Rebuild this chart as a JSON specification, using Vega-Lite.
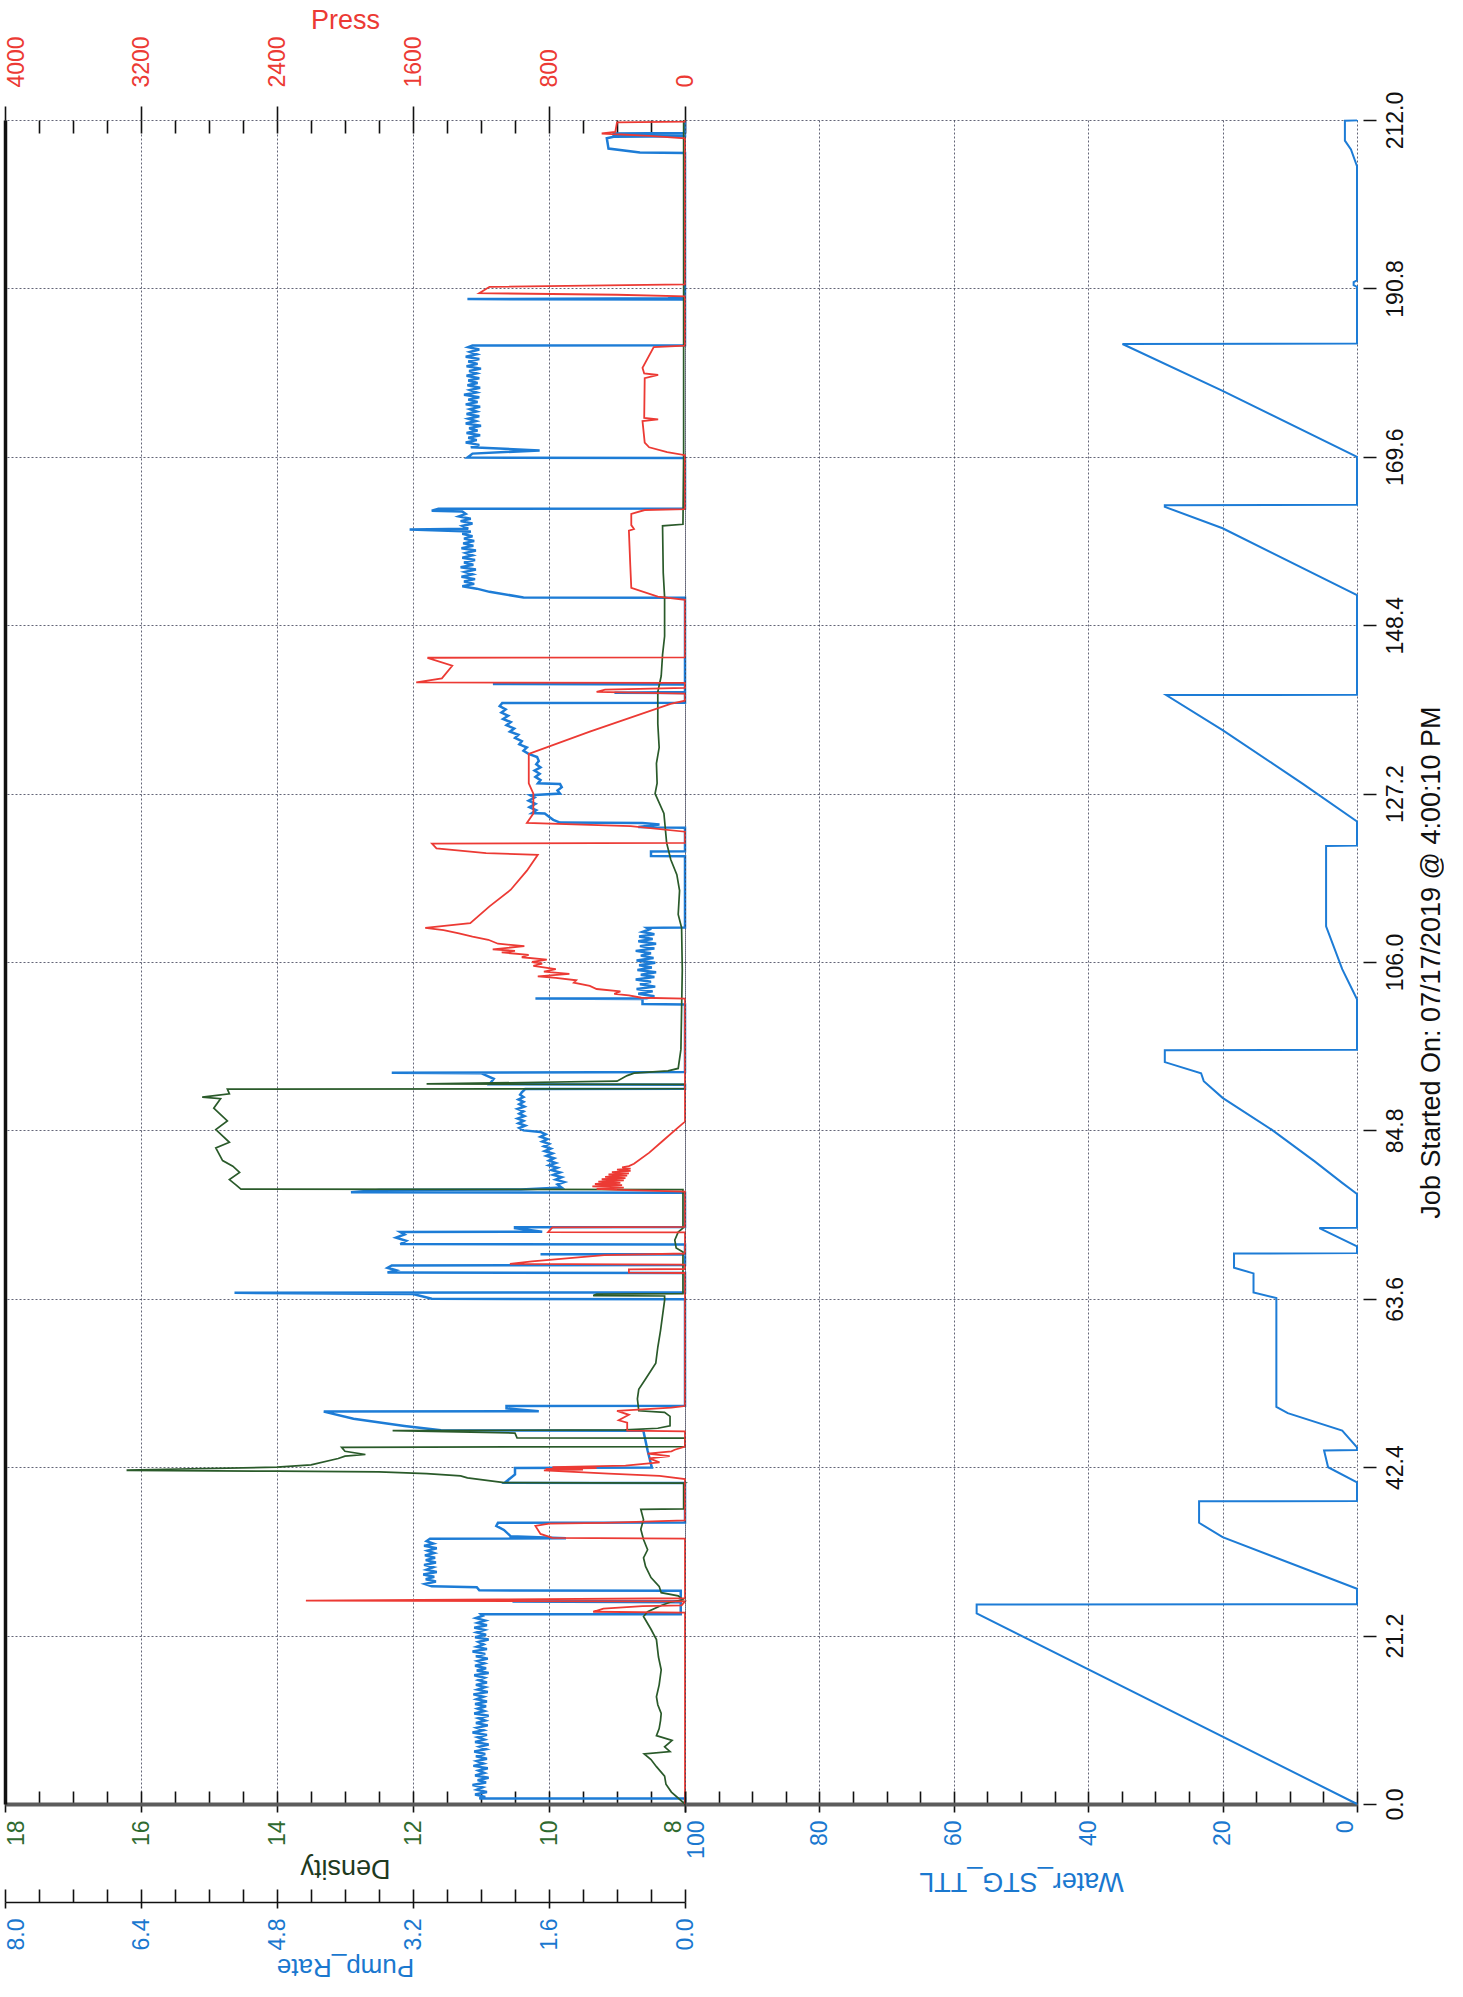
{
"$schema": "https://vega.github.io/schema/vega-lite/v6.json",
"background": "white",
"padding": {"left": 4, "top": 6, "right": 0, "bottom": 12},
"bounds": "flush",
"spacing": 0,
"config": {"view": {"stroke": null}, "font": "Liberation Sans",
  "axis": {"labelFont": "Liberation Sans", "titleFont": "Liberation Sans", "labelFlush": false, "labelOverlap": false, "gridColor": "#3c3f55", "gridDash": [2,2], "gridWidth": 1, "gridOpacity": 0.8, "tickColor": "#111111", "titleFontWeight": "normal"}},
"datasets": {
"pump": [
{"t":0,"v":0},{"t":0.7,"v":0},{"t":0.7,"v":2.42},{"t":0.9,"v":2.35},{"t":1.2,"v":2.47},{"t":1.5,"v":2.33},{"t":1.8,"v":2.45},{"t":2.1,"v":2.38},{"t":2.4,"v":2.5},{"t":2.7,"v":2.34},{"t":3.0,"v":2.44},{"t":3.3,"v":2.31},{"t":3.6,"v":2.47},{"t":3.9,"v":2.36},{"t":4.2,"v":2.43},{"t":4.5,"v":2.32},{"t":4.8,"v":2.49},{"t":5.1,"v":2.37},{"t":5.4,"v":2.45},{"t":5.7,"v":2.33},{"t":6.0,"v":2.46},{"t":6.3,"v":2.35},{"t":6.6,"v":2.48},{"t":6.9,"v":2.34},{"t":7.2,"v":2.42},{"t":7.5,"v":2.31},{"t":7.8,"v":2.47},{"t":8.1,"v":2.36},{"t":8.4,"v":2.44},{"t":8.7,"v":2.33},{"t":9.0,"v":2.5},{"t":9.3,"v":2.37},{"t":9.6,"v":2.45},{"t":9.9,"v":2.32},{"t":10.2,"v":2.46},{"t":10.5,"v":2.35},{"t":10.8,"v":2.43},{"t":11.1,"v":2.31},{"t":11.4,"v":2.48},{"t":11.7,"v":2.36},{"t":12.0,"v":2.44},{"t":12.3,"v":2.34},{"t":12.6,"v":2.47},{"t":12.9,"v":2.33},{"t":13.2,"v":2.45},{"t":13.5,"v":2.37},{"t":13.8,"v":2.49},{"t":14.1,"v":2.32},{"t":14.4,"v":2.44},{"t":14.7,"v":2.35},{"t":15.0,"v":2.46},{"t":15.3,"v":2.33},{"t":15.6,"v":2.43},{"t":15.9,"v":2.36},{"t":16.2,"v":2.48},{"t":16.5,"v":2.31},{"t":16.8,"v":2.45},{"t":17.1,"v":2.34},{"t":17.4,"v":2.47},{"t":17.7,"v":2.36},{"t":18.0,"v":2.44},{"t":18.3,"v":2.32},{"t":18.6,"v":2.46},{"t":18.9,"v":2.35},{"t":19.2,"v":2.5},{"t":19.5,"v":2.33},{"t":19.8,"v":2.45},{"t":20.1,"v":2.37},{"t":20.4,"v":2.43},{"t":20.7,"v":2.31},{"t":21.0,"v":2.47},{"t":21.3,"v":2.34},{"t":21.6,"v":2.45},{"t":21.9,"v":2.36},{"t":22.2,"v":2.48},{"t":22.5,"v":2.33},{"t":22.8,"v":2.44},{"t":23.1,"v":2.35},{"t":23.4,"v":2.46},{"t":23.7,"v":2.38},{"t":23.9,"v":2.4},{"t":23.9,"v":0.05},{"t":25.4,"v":0.05},{"t":25.5,"v":2.03},{"t":25.55,"v":0.05},{"t":26.85,"v":0.05},{"t":26.9,"v":2.42},{"t":27.3,"v":2.45},{"t":27.4,"v":2.98},{"t":27.7,"v":3.06},{"t":28.0,"v":2.93},{"t":28.3,"v":3.05},{"t":28.6,"v":2.95},{"t":28.9,"v":3.08},{"t":29.2,"v":2.92},{"t":29.5,"v":3.04},{"t":29.8,"v":2.96},{"t":30.1,"v":3.07},{"t":30.4,"v":2.93},{"t":30.7,"v":3.05},{"t":31.0,"v":2.94},{"t":31.3,"v":3.06},{"t":31.6,"v":2.95},{"t":31.9,"v":3.03},{"t":32.2,"v":2.92},{"t":32.5,"v":3.07},{"t":32.8,"v":2.96},{"t":33.1,"v":3.04},{"t":33.4,"v":3.0},{"t":33.45,"v":1.4},{"t":33.7,"v":2.05},{"t":34.5,"v":2.13},{"t":35.0,"v":2.22},{"t":35.4,"v":2.2},{"t":35.45,"v":0},{"t":40.4,"v":0},{"t":40.45,"v":2.12},{"t":41.5,"v":2.0},{"t":42.3,"v":2.0},{"t":42.35,"v":0.39},{"t":44.5,"v":0.44},{"t":47.0,"v":0.49},{"t":47.05,"v":2.87},{"t":47.6,"v":3.3},{"t":48.5,"v":3.9},{"t":49.4,"v":4.25},{"t":49.45,"v":1.72},{"t":49.8,"v":2.1},{"t":50.1,"v":2.1},{"t":50.15,"v":0},{"t":63.55,"v":0},{"t":63.6,"v":2.98},{"t":64.2,"v":3.2},{"t":64.35,"v":5.3},{"t":64.4,"v":0},{"t":66.85,"v":0},{"t":66.9,"v":3.5},{"t":67.2,"v":3.4},{"t":67.5,"v":3.5},{"t":67.8,"v":3.45},{"t":67.85,"v":0},{"t":69.15,"v":0},{"t":69.2,"v":1.7},{"t":69.25,"v":0},{"t":70.45,"v":0},{"t":70.5,"v":3.35},{"t":70.9,"v":3.28},{"t":71.3,"v":3.4},{"t":71.7,"v":3.3},{"t":72.0,"v":3.35},{"t":72.05,"v":1.68},{"t":72.5,"v":2.0},{"t":72.6,"v":2.0},{"t":72.65,"v":0},{"t":76.95,"v":0},{"t":77.0,"v":3.93},{"t":77.3,"v":3.6},{"t":77.35,"v":1.93},{"t":77.6,"v":1.45},{"t":78.0,"v":1.5},{"t":78.3,"v":1.42},{"t":78.6,"v":1.52},{"t":78.9,"v":1.45},{"t":79.2,"v":1.55},{"t":79.5,"v":1.47},{"t":79.8,"v":1.57},{"t":80.1,"v":1.5},{"t":80.4,"v":1.6},{"t":80.7,"v":1.52},{"t":81.0,"v":1.6},{"t":81.3,"v":1.54},{"t":81.6,"v":1.63},{"t":81.9,"v":1.56},{"t":82.2,"v":1.65},{"t":82.5,"v":1.58},{"t":82.8,"v":1.66},{"t":83.1,"v":1.6},{"t":83.4,"v":1.68},{"t":83.7,"v":1.62},{"t":84.0,"v":1.7},{"t":84.3,"v":1.64},{"t":84.6,"v":1.7},{"t":84.8,"v":1.9},{"t":85.1,"v":1.95},{"t":85.4,"v":1.88},{"t":85.7,"v":1.96},{"t":86.0,"v":1.9},{"t":86.3,"v":1.97},{"t":86.6,"v":1.89},{"t":86.9,"v":1.95},{"t":87.2,"v":1.9},{"t":87.5,"v":1.97},{"t":87.8,"v":1.89},{"t":88.1,"v":1.95},{"t":88.4,"v":1.9},{"t":88.7,"v":1.96},{"t":89.0,"v":1.9},{"t":89.3,"v":1.94},{"t":89.6,"v":1.92},{"t":90.0,"v":1.88},{"t":90.05,"v":0},{"t":90.55,"v":0},{"t":90.6,"v":2.3},{"t":91.3,"v":2.25},{"t":92.0,"v":2.4},{"t":92.05,"v":3.45},{"t":92.15,"v":0},{"t":100.65,"v":0},{"t":100.7,"v":0.5},{"t":101.35,"v":0.5},{"t":101.4,"v":1.76},{"t":101.45,"v":0.45},{"t":101.7,"v":0.36},{"t":102.0,"v":0.55},{"t":102.3,"v":0.38},{"t":102.6,"v":0.57},{"t":102.9,"v":0.35},{"t":103.2,"v":0.53},{"t":103.5,"v":0.4},{"t":103.8,"v":0.58},{"t":104.1,"v":0.36},{"t":104.4,"v":0.52},{"t":104.7,"v":0.34},{"t":105.0,"v":0.56},{"t":105.3,"v":0.39},{"t":105.6,"v":0.54},{"t":105.9,"v":0.35},{"t":106.2,"v":0.57},{"t":106.5,"v":0.37},{"t":106.8,"v":0.52},{"t":107.1,"v":0.4},{"t":107.4,"v":0.58},{"t":107.7,"v":0.36},{"t":108.0,"v":0.53},{"t":108.3,"v":0.34},{"t":108.6,"v":0.55},{"t":108.9,"v":0.38},{"t":109.2,"v":0.54},{"t":109.5,"v":0.36},{"t":109.8,"v":0.5},{"t":110.1,"v":0.42},{"t":110.3,"v":0.45},{"t":110.35,"v":0},{"t":119.3,"v":0},{"t":119.35,"v":0.4},{"t":119.9,"v":0.4},{"t":119.95,"v":0},{"t":122.9,"v":0},{"t":123.0,"v":0.55},{"t":123.3,"v":0.3},{"t":123.5,"v":0.5},{"t":123.55,"v":1.47},{"t":123.9,"v":1.55},{"t":124.3,"v":1.6},{"t":124.7,"v":1.65},{"t":124.75,"v":1.8},{"t":125.1,"v":1.75},{"t":125.5,"v":1.83},{"t":125.9,"v":1.76},{"t":126.3,"v":1.84},{"t":126.7,"v":1.77},{"t":127.0,"v":1.82},{"t":127.2,"v":1.47},{"t":127.6,"v":1.5},{"t":128.0,"v":1.45},{"t":128.4,"v":1.47},{"t":128.5,"v":1.73},{"t":128.9,"v":1.7},{"t":129.3,"v":1.76},{"t":129.7,"v":1.71},{"t":130.1,"v":1.77},{"t":130.5,"v":1.7},{"t":130.9,"v":1.75},{"t":131.3,"v":1.72},{"t":131.8,"v":1.74},{"t":132.2,"v":1.84},{"t":132.6,"v":1.9},{"t":133.0,"v":1.86},{"t":133.4,"v":1.95},{"t":133.8,"v":1.92},{"t":134.2,"v":2.0},{"t":134.6,"v":1.96},{"t":135.0,"v":2.06},{"t":135.4,"v":2.01},{"t":135.8,"v":2.1},{"t":136.2,"v":2.05},{"t":136.6,"v":2.14},{"t":137.0,"v":2.08},{"t":137.4,"v":2.16},{"t":137.8,"v":2.11},{"t":138.2,"v":2.18},{"t":138.6,"v":2.15},{"t":138.65,"v":0},{"t":139.85,"v":0},{"t":139.9,"v":0.83},{"t":140.0,"v":0},{"t":140.95,"v":0},{"t":141.0,"v":2.26},{"t":141.1,"v":0},{"t":151.85,"v":0},{"t":151.9,"v":1.9},{"t":152.6,"v":2.3},{"t":153.0,"v":2.45},{"t":153.3,"v":2.62},{"t":153.6,"v":2.48},{"t":153.9,"v":2.6},{"t":154.2,"v":2.47},{"t":154.5,"v":2.63},{"t":154.8,"v":2.5},{"t":155.1,"v":2.59},{"t":155.4,"v":2.46},{"t":155.7,"v":2.64},{"t":156.0,"v":2.49},{"t":156.3,"v":2.6},{"t":156.6,"v":2.47},{"t":156.9,"v":2.62},{"t":157.2,"v":2.5},{"t":157.5,"v":2.58},{"t":157.8,"v":2.46},{"t":158.1,"v":2.63},{"t":158.4,"v":2.49},{"t":158.7,"v":2.61},{"t":159.0,"v":2.48},{"t":159.3,"v":2.6},{"t":159.6,"v":2.5},{"t":159.9,"v":2.62},{"t":160.2,"v":2.52},{"t":160.45,"v":3.24},{"t":160.55,"v":2.55},{"t":160.9,"v":2.62},{"t":161.2,"v":2.5},{"t":161.5,"v":2.64},{"t":161.8,"v":2.52},{"t":162.1,"v":2.66},{"t":162.4,"v":2.58},{"t":162.7,"v":2.62},{"t":162.8,"v":2.98},{"t":163.05,"v":2.9},{"t":163.1,"v":0},{"t":169.45,"v":0},{"t":169.5,"v":2.56},{"t":170.0,"v":2.5},{"t":170.4,"v":1.71},{"t":170.8,"v":2.52},{"t":171.1,"v":2.42},{"t":171.4,"v":2.58},{"t":171.7,"v":2.45},{"t":172.0,"v":2.55},{"t":172.3,"v":2.41},{"t":172.6,"v":2.57},{"t":172.9,"v":2.44},{"t":173.2,"v":2.54},{"t":173.5,"v":2.4},{"t":173.8,"v":2.58},{"t":174.1,"v":2.46},{"t":174.4,"v":2.55},{"t":174.7,"v":2.42},{"t":175.0,"v":2.57},{"t":175.3,"v":2.45},{"t":175.6,"v":2.53},{"t":175.9,"v":2.41},{"t":176.2,"v":2.58},{"t":176.5,"v":2.44},{"t":176.8,"v":2.55},{"t":177.1,"v":2.42},{"t":177.4,"v":2.6},{"t":177.7,"v":2.45},{"t":178.0,"v":2.53},{"t":178.3,"v":2.41},{"t":178.6,"v":2.56},{"t":178.9,"v":2.44},{"t":179.2,"v":2.55},{"t":179.5,"v":2.42},{"t":179.8,"v":2.57},{"t":180.1,"v":2.45},{"t":180.4,"v":2.54},{"t":180.7,"v":2.4},{"t":181.0,"v":2.57},{"t":181.3,"v":2.44},{"t":181.6,"v":2.55},{"t":181.9,"v":2.42},{"t":182.2,"v":2.58},{"t":182.5,"v":2.45},{"t":182.8,"v":2.53},{"t":183.1,"v":2.42},{"t":183.4,"v":2.55},{"t":183.6,"v":2.5},{"t":183.65,"v":0},{"t":189.4,"v":0},{"t":189.45,"v":2.56},{"t":189.55,"v":0.2},{"t":189.7,"v":0},{"t":207.85,"v":0},{"t":207.9,"v":0.53},{"t":208.4,"v":0.9},{"t":209.7,"v":0.92},{"t":209.9,"v":0.84},{"t":209.95,"v":0},{"t":210.1,"v":0},{"t":210.15,"v":0.84},{"t":210.3,"v":0.84},{"t":210.35,"v":0},{"t":212,"v":0}
],
"density": [
{"t":0,"v":8.0},{"t":1.5,"v":8.2},{"t":2.5,"v":8.28},{"t":3.5,"v":8.3},{"t":4.7,"v":8.42},{"t":5.6,"v":8.5},{"t":6.3,"v":8.6},{"t":6.6,"v":8.22},{"t":7.2,"v":8.3},{"t":8.0,"v":8.19},{"t":8.6,"v":8.42},{"t":9.5,"v":8.38},{"t":10.5,"v":8.36},{"t":11.4,"v":8.35},{"t":12.5,"v":8.4},{"t":13.5,"v":8.42},{"t":15.0,"v":8.38},{"t":16.9,"v":8.35},{"t":18.5,"v":8.39},{"t":20.7,"v":8.42},{"t":22.0,"v":8.5},{"t":23.6,"v":8.61},{"t":24.2,"v":8.55},{"t":25.0,"v":8.35},{"t":25.4,"v":8.22},{"t":25.7,"v":8.03},{"t":26.2,"v":8.1},{"t":26.6,"v":8.35},{"t":27.4,"v":8.38},{"t":28.5,"v":8.5},{"t":29.9,"v":8.58},{"t":31.0,"v":8.61},{"t":32.0,"v":8.55},{"t":33.3,"v":8.61},{"t":34.6,"v":8.65},{"t":35.8,"v":8.61},{"t":37.1,"v":8.65},{"t":37.15,"v":8.02},{"t":40.3,"v":8.02},{"t":40.4,"v":8.0},{"t":40.45,"v":10.66},{"t":41.05,"v":11.2},{"t":41.3,"v":11.3},{"t":41.6,"v":11.8},{"t":41.8,"v":12.5},{"t":41.9,"v":14.0},{"t":42.0,"v":16.2},{"t":42.05,"v":16.2},{"t":42.4,"v":14.0},{"t":42.7,"v":13.5},{"t":43.5,"v":13.1},{"t":43.8,"v":13.0},{"t":44.0,"v":12.7},{"t":44.4,"v":13.0},{"t":44.9,"v":13.05},{"t":45.0,"v":8.0},{"t":46.05,"v":8.0},{"t":46.1,"v":10.47},{"t":46.7,"v":10.5},{"t":47.0,"v":12.3},{"t":47.1,"v":8.88},{"t":47.3,"v":8.4},{"t":47.6,"v":8.22},{"t":48.8,"v":8.22},{"t":49.3,"v":8.3},{"t":49.5,"v":8.68},{"t":51.0,"v":8.7},{"t":52.2,"v":8.68},{"t":53.5,"v":8.58},{"t":55.5,"v":8.43},{"t":57.5,"v":8.4},{"t":59.6,"v":8.36},{"t":61.5,"v":8.33},{"t":63.4,"v":8.3},{"t":63.95,"v":8.3},{"t":64.0,"v":9.35},{"t":64.2,"v":9.3},{"t":64.25,"v":8.03},{"t":69.5,"v":8.03},{"t":70.0,"v":8.13},{"t":71.0,"v":8.15},{"t":72.0,"v":8.1},{"t":72.5,"v":8.03},{"t":77.35,"v":8.03},{"t":77.4,"v":14.53},{"t":77.9,"v":14.6},{"t":78.6,"v":14.7},{"t":79.5,"v":14.55},{"t":80.3,"v":14.65},{"t":81.0,"v":14.8},{"t":82.6,"v":14.9},{"t":83.3,"v":14.7},{"t":84.9,"v":14.9},{"t":86.0,"v":14.73},{"t":87.6,"v":14.93},{"t":88.8,"v":14.83},{"t":89.0,"v":15.1},{"t":89.4,"v":14.7},{"t":90.0,"v":14.73},{"t":90.05,"v":8.0},{"t":90.6,"v":8.0},{"t":90.65,"v":11.8},{"t":91.0,"v":9.0},{"t":91.7,"v":8.85},{"t":92.0,"v":8.75},{"t":92.3,"v":8.25},{"t":92.6,"v":8.1},{"t":95,"v":8.06},{"t":100,"v":8.05},{"t":105,"v":8.04},{"t":110.3,"v":8.05},{"t":112,"v":8.1},{"t":115,"v":8.08},{"t":117,"v":8.12},{"t":118.9,"v":8.21},{"t":121,"v":8.27},{"t":124.7,"v":8.31},{"t":127.2,"v":8.44},{"t":128.5,"v":8.41},{"t":131,"v":8.42},{"t":133,"v":8.38},{"t":136,"v":8.4},{"t":140,"v":8.4},{"t":142,"v":8.35},{"t":144.7,"v":8.33},{"t":147,"v":8.3},{"t":150,"v":8.3},{"t":151.9,"v":8.3},{"t":155,"v":8.32},{"t":160.9,"v":8.33},{"t":161.1,"v":8.03},{"t":170,"v":8.02},{"t":190,"v":8.02},{"t":212,"v":8.02}
],
"press": [
{"t":0,"v":0},{"t":24.1,"v":0},{"t":24.2,"v":540},{"t":24.6,"v":480},{"t":24.9,"v":250},{"t":25.0,"v":20},{"t":25.5,"v":0},{"t":25.6,"v":2230},{"t":25.75,"v":1100},{"t":25.9,"v":0},{"t":33.4,"v":0},{"t":33.5,"v":780},{"t":34.0,"v":850},{"t":35.0,"v":880},{"t":35.3,"v":800},{"t":35.4,"v":480},{"t":35.7,"v":0},{"t":40.9,"v":0},{"t":41.3,"v":150},{"t":41.6,"v":450},{"t":42.0,"v":830},{"t":42.1,"v":600},{"t":42.2,"v":820},{"t":42.3,"v":520},{"t":42.4,"v":780},{"t":42.6,"v":350},{"t":43.0,"v":150},{"t":43.5,"v":210},{"t":43.8,"v":90},{"t":44.1,"v":220},{"t":44.4,"v":80},{"t":44.6,"v":60},{"t":45.0,"v":0},{"t":46.9,"v":0},{"t":47.0,"v":340},{"t":48.0,"v":340},{"t":48.3,"v":390},{"t":49.0,"v":330},{"t":49.5,"v":400},{"t":49.9,"v":80},{"t":50.1,"v":0},{"t":66.85,"v":0},{"t":66.9,"v":330},{"t":67.3,"v":330},{"t":67.35,"v":0},{"t":67.9,"v":0},{"t":68.0,"v":1030},{"t":68.3,"v":900},{"t":69.1,"v":475},{"t":69.3,"v":0},{"t":71.95,"v":0},{"t":72.0,"v":805},{"t":72.6,"v":780},{"t":72.65,"v":0},{"t":77.1,"v":0},{"t":77.3,"v":400},{"t":77.45,"v":520},{"t":77.6,"v":360},{"t":77.75,"v":545},{"t":77.9,"v":370},{"t":78.05,"v":530},{"t":78.2,"v":380},{"t":78.35,"v":510},{"t":78.5,"v":360},{"t":78.65,"v":490},{"t":78.8,"v":350},{"t":78.95,"v":470},{"t":79.1,"v":340},{"t":79.25,"v":450},{"t":79.4,"v":330},{"t":79.55,"v":430},{"t":79.7,"v":320},{"t":79.85,"v":400},{"t":80.0,"v":320},{"t":80.15,"v":370},{"t":80.3,"v":330},{"t":80.6,"v":300},{"t":82.0,"v":210},{"t":83.5,"v":130},{"t":85.0,"v":50},{"t":85.9,"v":0},{"t":101.4,"v":0},{"t":101.5,"v":257},{"t":101.8,"v":330},{"t":102.0,"v":416},{"t":102.3,"v":380},{"t":102.6,"v":520},{"t":103.0,"v":560},{"t":103.4,"v":654},{"t":103.7,"v":640},{"t":104.0,"v":760},{"t":104.2,"v":866},{"t":104.5,"v":680},{"t":104.8,"v":830},{"t":105.1,"v":760},{"t":105.5,"v":892},{"t":105.8,"v":840},{"t":106.0,"v":900},{"t":106.3,"v":813},{"t":106.6,"v":960},{"t":106.9,"v":920},{"t":107.2,"v":1078},{"t":107.4,"v":1000},{"t":107.6,"v":1131},{"t":108.0,"v":945},{"t":108.3,"v":1100},{"t":108.8,"v":1157},{"t":109.2,"v":1250},{"t":109.6,"v":1330},{"t":110.0,"v":1420},{"t":110.3,"v":1528},{"t":110.9,"v":1263},{"t":113.0,"v":1150},{"t":115.1,"v":1025},{"t":117.5,"v":930},{"t":119.5,"v":866},{"t":119.7,"v":1170},{"t":120.3,"v":1462},{"t":120.9,"v":1488},{"t":121.0,"v":0},{"t":122.4,"v":0},{"t":123.1,"v":320},{"t":123.5,"v":930},{"t":124.7,"v":892},{"t":127.2,"v":892},{"t":128.5,"v":919},{"t":132.2,"v":919},{"t":135.0,"v":560},{"t":138.5,"v":85},{"t":138.9,"v":0},{"t":139.8,"v":0},{"t":140.0,"v":520},{"t":140.3,"v":470},{"t":140.5,"v":0},{"t":141.15,"v":0},{"t":141.2,"v":1581},{"t":141.7,"v":1430},{"t":143.3,"v":1369},{"t":144.3,"v":1515},{"t":144.35,"v":0},{"t":151.6,"v":0},{"t":152.0,"v":160},{"t":153.1,"v":316},{"t":156,"v":322},{"t":160.3,"v":330},{"t":160.5,"v":300},{"t":161,"v":316},{"t":162.4,"v":316},{"t":162.9,"v":237},{"t":163.0,"v":0},{"t":169.8,"v":0},{"t":170.2,"v":105},{"t":170.8,"v":211},{"t":171.4,"v":237},{"t":174.1,"v":250},{"t":174.3,"v":158},{"t":174.5,"v":240},{"t":179.5,"v":237},{"t":179.9,"v":158},{"t":180.1,"v":240},{"t":180.8,"v":250},{"t":183.4,"v":184},{"t":183.6,"v":0},{"t":189.8,"v":0},{"t":190.0,"v":400},{"t":190.2,"v":1210},{"t":191.0,"v":1150},{"t":191.3,"v":0},{"t":209.7,"v":0},{"t":210.0,"v":210},{"t":210.3,"v":490},{"t":210.5,"v":410},{"t":211.7,"v":400},{"t":211.8,"v":0},{"t":212,"v":0}
],
"water": [
{"t":0,"v":0},{"t":24.0,"v":56.6},{"t":25.1,"v":56.6},{"t":25.15,"v":0},{"t":27.1,"v":0},{"t":33.6,"v":20},{"t":35.4,"v":23.5},{"t":38.1,"v":23.5},{"t":38.15,"v":0},{"t":40.5,"v":0},{"t":42.4,"v":4.3},{"t":44.5,"v":4.9},{"t":44.55,"v":0},{"t":44.9,"v":0},{"t":47.0,"v":2.2},{"t":49.2,"v":10.3},{"t":50.0,"v":12.0},{"t":63.7,"v":12.0},{"t":64.4,"v":15.4},{"t":66.8,"v":15.4},{"t":67.5,"v":18.3},{"t":69.3,"v":18.3},{"t":69.35,"v":0},{"t":70.2,"v":0},{"t":72.5,"v":5.6},{"t":72.55,"v":0},{"t":76.8,"v":0},{"t":78.2,"v":2.2},{"t":80.9,"v":6.3},{"t":84.9,"v":12.7},{"t":88.9,"v":20},{"t":91.0,"v":22.8},{"t":92.0,"v":23.2},{"t":93.4,"v":28.6},{"t":94.9,"v":28.6},{"t":94.95,"v":0},{"t":101.3,"v":0},{"t":105.1,"v":2.2},{"t":110.5,"v":4.6},{"t":120.6,"v":4.6},{"t":120.65,"v":0},{"t":123.7,"v":0},{"t":128.4,"v":8.0},{"t":135.2,"v":20},{"t":139.6,"v":28.4},{"t":139.65,"v":0},{"t":152.2,"v":0},{"t":160.6,"v":20},{"t":163.3,"v":28.6},{"t":163.5,"v":28.6},{"t":163.55,"v":0},{"t":169.6,"v":0},{"t":177.9,"v":20},{"t":183.8,"v":34.9},{"t":183.85,"v":0},{"t":191.0,"v":0},{"t":191.2,"v":0.5},{"t":191.6,"v":0.5},{"t":191.8,"v":0},{"t":206.2,"v":0},{"t":208.3,"v":0.9},{"t":209.4,"v":1.8},{"t":211.9,"v":1.8},{"t":211.95,"v":0},{"t":212,"v":0}
]
},
"hconcat": [
{
"width": 680, "height": 1684,
"layer": [
{"data": {"name": "press"}, "mark": {"type": "point", "opacity": 0},
 "encoding": {
  "x": {"field": "v", "type": "quantitative", "scale": {"domain": [0,4000], "reverse": true, "nice": false, "zero": false},
   "axis": {"orient": "top", "values": [0,200,400,600,800,1000,1200,1400,1600,1800,2000,2200,2400,2600,2800,3000,3200,3400,3600,3800,4000], "labels": false, "grid": false, "domain": false, "tickSize": -13, "tickWidth": 1.6, "title": null}},
  "y": {"field": "t", "type": "quantitative", "scale": {"domain": [0,212], "nice": false, "zero": false},
   "axis": {"orient": "left", "values": [0,21.2,42.4,63.6,84.8,106,127.2,148.4,169.6,190.8,212], "grid": true, "labels": false, "ticks": false, "domain": true, "domainColor": "#111111", "domainWidth": 3.5, "title": null}}}},
{"data": {"name": "density"}, "mark": {"type": "point", "opacity": 0},
 "encoding": {
  "x": {"field": "v", "type": "quantitative", "scale": {"domain": [8,18], "reverse": true, "nice": false, "zero": false},
   "axis": {"orient": "bottom", "values": [8,8.5,9,9.5,10,10.5,11,11.5,12,12.5,13,13.5,14,14.5,15,15.5,16,16.5,17,17.5,18], "labels": false, "grid": false, "domain": false, "tickSize": -13, "tickWidth": 1.6, "title": null}},
  "y": {"field": "t", "type": "quantitative", "scale": {"domain": [0,212], "nice": false, "zero": false},
   "axis": {"orient": "left", "values": [0,21.2,42.4,63.6,84.8,106,127.2,148.4,169.6,190.8,212], "grid": true, "labels": false, "ticks": false, "domain": true, "domainColor": "#111111", "domainWidth": 3.5, "title": null}}}},
{"data": {"name": "pump"}, "mark": {"type": "point", "opacity": 0},
 "encoding": {
  "x": {"field": "v", "type": "quantitative", "scale": {"domain": [0,8], "reverse": true, "nice": false, "zero": false},
   "axis": {"orient": "bottom", "offset": 98, "values": [0,0.4,0.8,1.2,1.6,2,2.4,2.8,3.2,3.6,4,4.4,4.8,5.2,5.6,6,6.4,6.8,7.2,7.6,8], "labels": false, "grid": false, "domain": false, "tickSize": -13, "tickWidth": 1.6, "title": null}},
  "y": {"field": "t", "type": "quantitative", "scale": {"domain": [0,212], "nice": false, "zero": false},
   "axis": {"orient": "left", "values": [0,21.2,42.4,63.6,84.8,106,127.2,148.4,169.6,190.8,212], "grid": true, "labels": false, "ticks": false, "domain": true, "domainColor": "#111111", "domainWidth": 3.5, "title": null}}}},
{"data": {"name": "pump"}, "mark": {"type": "line", "color": "#1d7cd6", "strokeWidth": 2.5},
 "encoding": {
  "order": {"value": null},
  "x": {"field": "v", "type": "quantitative", "scale": {"domain": [0,8], "reverse": true, "nice": false, "zero": false},
   "axis": {"orient": "bottom", "offset": 98, "values": [0,1.6,3.2,4.8,6.4,8], "format": ".1f", "grid": false, "domain": true, "domainColor": "#111111", "domainWidth": 1.6, "tickSize": 6, "tickWidth": 1.6,
    "labelAngle": 270, "labelAlign": "right", "labelBaseline": {"condition": {"test": "datum.value >= 7.99", "value": "top"}, "value": "middle"}, "labelPadding": 10, "labelFontSize": 23, "labelColor": "#1a78cf",
    "title": "Pump_Rate", "titleAngle": 180, "titleBaseline": "bottom", "titleFontSize": 26, "titleColor": "#1a78cf", "titlePadding": 4}},
  "y": {"field": "t", "type": "quantitative", "scale": {"domain": [0,212], "nice": false, "zero": false},
   "axis": {"orient": "left", "values": [0,21.2,42.4,63.6,84.8,106,127.2,148.4,169.6,190.8,212], "grid": true, "labels": false, "ticks": false, "domain": true, "domainColor": "#111111", "domainWidth": 3.5, "title": null}}}},
{"data": {"name": "density"}, "mark": {"type": "line", "color": "#2a5a2a", "strokeWidth": 1.7},
 "encoding": {
  "order": {"value": null},
  "x": {"field": "v", "type": "quantitative", "scale": {"domain": [8,18], "reverse": true, "nice": false, "zero": false},
   "axis": {"orient": "bottom", "values": [8,10,12,14,16,18], "format": "d", "grid": false, "domain": true, "domainColor": "#5c5c5c", "domainWidth": 4, "tickSize": 8, "tickWidth": 1.6,
    "labelAngle": 270, "labelAlign": "right", "labelBaseline": {"condition": [{"test": "datum.value >= 17.99", "value": "top"}, {"test": "datum.value <= 8.01", "value": "bottom"}], "value": "middle"}, "labelPadding": 8, "labelFontSize": 23, "labelColor": "#2f6a2f",
    "title": "Density", "titleAngle": 180, "titleBaseline": "bottom", "titleFontSize": 27, "titleColor": "#1e3a1e", "titlePadding": 8}},
  "y": {"field": "t", "type": "quantitative", "scale": {"domain": [0,212], "nice": false, "zero": false},
   "axis": {"orient": "left", "values": [0,21.2,42.4,63.6,84.8,106,127.2,148.4,169.6,190.8,212], "grid": true, "labels": false, "ticks": false, "domain": true, "domainColor": "#111111", "domainWidth": 3.5, "title": null}}}},
{"data": {"name": "press"}, "mark": {"type": "line", "color": "#ec3a34", "strokeWidth": 1.8},
 "encoding": {
  "order": {"value": null},
  "x": {"field": "v", "type": "quantitative", "scale": {"domain": [0,4000], "reverse": true, "nice": false, "zero": false},
   "axis": {"orient": "top", "values": [0,800,1600,2400,3200,4000], "format": "d", "grid": true, "domain": false, "tickSize": 14, "tickWidth": 1.6,
    "labelAngle": 270, "labelAlign": "left", "labelBaseline": {"condition": {"test": "datum.value >= 3999", "value": "top"}, "value": "middle"}, "labelPadding": 19, "labelFontSize": 23, "labelColor": "#ec3a34",
    "title": "Press", "titleAngle": 0, "titleFontSize": 27, "titleColor": "#ec3a34", "titlePadding": 1}},
  "y": {"field": "t", "type": "quantitative", "scale": {"domain": [0,212], "nice": false, "zero": false},
   "axis": {"orient": "left", "values": [0,21.2,42.4,63.6,84.8,106,127.2,148.4,169.6,190.8,212], "grid": true, "labels": false, "ticks": false, "domain": true, "domainColor": "#111111", "domainWidth": 3.5, "title": null}}}}
],
"resolve": {"scale": {"x": "independent"}, "axis": {"x": "independent"}}
},
{
"width": 672, "height": 1684,
"layer": [
{"data": {"name": "water"}, "mark": {"type": "point", "opacity": 0},
 "encoding": {
  "x": {"field": "v", "type": "quantitative", "scale": {"domain": [0,100], "reverse": true, "nice": false, "zero": false},
   "axis": {"orient": "bottom", "values": [0,5,10,15,20,25,30,35,40,45,50,55,60,65,70,75,80,85,90,95,100], "labels": false, "grid": false, "domain": false, "tickSize": -13, "tickWidth": 1.6, "title": null}},
  "y": {"field": "t", "type": "quantitative", "scale": {"domain": [0,212], "nice": false, "zero": false},
   "axis": {"orient": "right", "values": [0,21.2,42.4,63.6,84.8,106,127.2,148.4,169.6,190.8,212], "format": ".1f", "grid": true, "domain": false, "offset": 6, "tickSize": 13, "tickWidth": 1.5, "labelAngle": 270, "labelAlign": "center", "labelBaseline": "top", "labelPadding": 8, "labelFontSize": 23, "labelColor": "#111111", "title": "Job Started On: 07/17/2019 @ 4:00:10 PM", "titleAngle": 270, "titleBaseline": "top", "titleFontSize": 27, "titleColor": "#111111", "titlePadding": 11}}}},
{"data": {"name": "water"}, "mark": {"type": "line", "color": "#1d7cd6", "strokeWidth": 2},
 "encoding": {
  "order": {"value": null},
  "x": {"field": "v", "type": "quantitative", "scale": {"domain": [0,100], "reverse": true, "nice": false, "zero": false},
   "axis": {"orient": "bottom", "values": [0,20,40,60,80,100], "format": "d", "grid": true, "domain": true, "domainColor": "#5c5c5c", "domainWidth": 4, "tickSize": 8, "tickWidth": 1.6,
    "labelAngle": 270, "labelAlign": "right", "labelBaseline": {"condition": [{"test": "datum.value >= 99.9", "value": "top"}, {"test": "datum.value <= 0.1", "value": "bottom"}], "value": "middle"}, "labelPadding": 8, "labelFontSize": 23, "labelColor": "#1a78cf",
    "title": "Water_STG_TTL", "titleAngle": 180, "titleBaseline": "bottom", "titleFontSize": 27, "titleColor": "#1a78cf", "titlePadding": 8}},
  "y": {"field": "t", "type": "quantitative", "scale": {"domain": [0,212], "nice": false, "zero": false},
   "axis": {"orient": "right", "values": [0,21.2,42.4,63.6,84.8,106,127.2,148.4,169.6,190.8,212], "format": ".1f", "grid": true, "domain": false, "offset": 6, "tickSize": 13, "tickWidth": 1.5, "labelAngle": 270, "labelAlign": "center", "labelBaseline": "top", "labelPadding": 8, "labelFontSize": 23, "labelColor": "#111111", "title": "Job Started On: 07/17/2019 @ 4:00:10 PM", "titleAngle": 270, "titleBaseline": "top", "titleFontSize": 27, "titleColor": "#111111", "titlePadding": 11}}}}
],
"resolve": {"scale": {"x": "independent"}, "axis": {"x": "independent"}}
}
]
}
